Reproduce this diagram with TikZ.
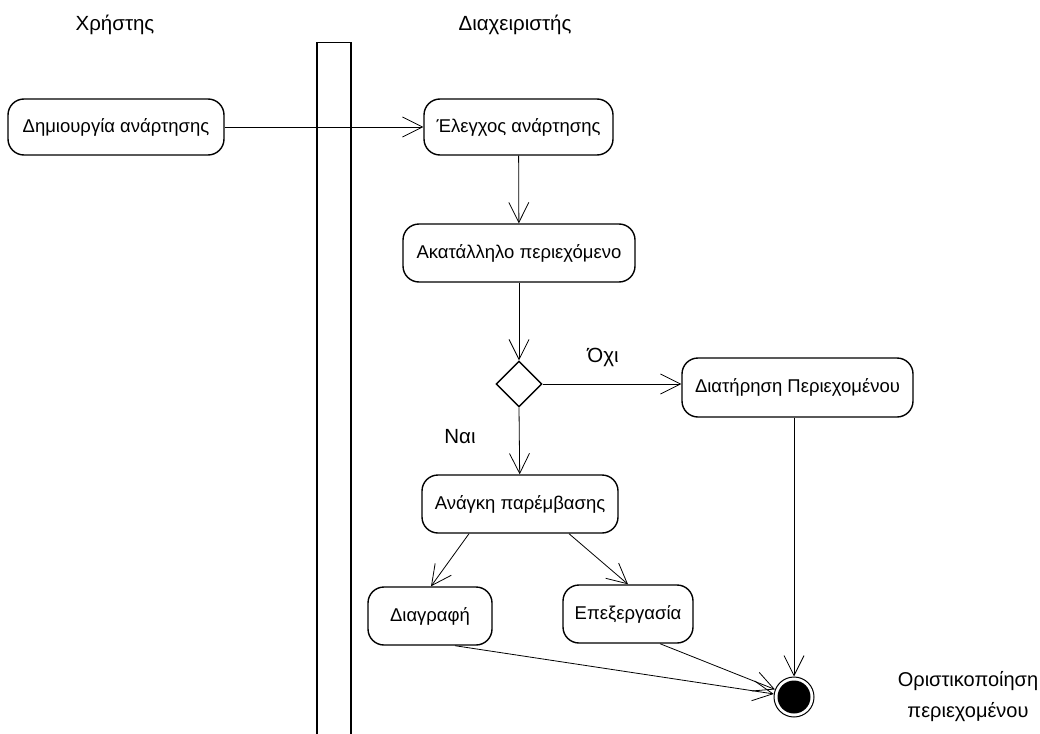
\documentclass[tikz,border=0pt]{standalone}
\usepackage{fontspec}
\setmainfont{Liberation Sans}
\usetikzlibrary{arrows.meta,calc,shapes.geometric}
\begin{document}
\begin{tikzpicture}[x=1pt,y=-1pt,
  act/.style={draw,rectangle,rounded corners=16pt,line width=1.4pt,inner sep=0pt,
    font=\fontsize{18.5}{22}\selectfont,fill=white},
  flow/.style={line width=0.8pt,-{Straight Barb[length=20pt,width=20pt,line width=0.8pt]}},
  lbl/.style={font=\fontsize{20.5}{24}\selectfont,inner sep=0pt},
]
\useasboundingbox (0,0) rectangle (1040,733);
% swimlane separator
\draw[line width=1.4pt] (317,760) -- (317,42.5) -- (351,42.5) -- (351,760);
% lane titles
\node[lbl] (lu) at (115,25) {Χρήστης};
\node[lbl] (la) at (515,25) {Διαχειριστής};
% activities
\node[act,minimum width=216pt,minimum height=56pt] (cr) at (116,127) {Δημιουργία ανάρτησης};
\node[act,minimum width=189pt,minimum height=56pt] (ch) at (518.5,127) {Έλεγχος ανάρτησης};
\node[act,minimum width=232pt,minimum height=58pt] (in) at (519,253) {Ακατάλληλο περιεχόμενο};
\node[draw,diamond,line width=1.4pt,minimum width=46pt,minimum height=46pt,inner sep=0pt] (dec) at (519,384) {};
\node[act,minimum width=231pt,minimum height=59pt] (kp) at (797.5,387.5) {Διατήρηση Περιεχομένου};
\node[act,minimum width=196pt,minimum height=58pt] (nd) at (520,504) {Ανάγκη παρέμβασης};
\node[act,minimum width=124pt,minimum height=58pt] (del) at (430,616) {Διαγραφή};
\node[act,minimum width=130pt,minimum height=58pt] (ed) at (628,614) {Επεξεργασία};
% final node
\node[draw,circle,line width=1pt,minimum size=40pt,inner sep=0pt] (fin) at (794,697) {};
\fill (fin.center) circle (16.5pt);
% guard labels
\node[lbl] (no) at (603,357) {Όχι};
\node[lbl] (yes) at (460,437) {Ναι};
\node[lbl,align=center,font=\fontsize{20}{31}\selectfont] (fl) at (968,697) {Οριστικοποίηση\\περιεχομένου};
% flows
\draw[flow] (cr) -- (ch);
\draw[flow] (ch) -- (in);
\draw[flow] (in) -- (dec.north);
\draw[flow] (dec.east) -- (kp.west |- dec.east);
\draw[flow] (dec.south) -- (nd);
\draw[flow] ($(nd.south)+(-51,0)$) -- ($(del.north)+(1,0)$);
\draw[flow] ($(nd.south)+(49,0)$) -- (ed.north);
\draw[flow] (fin |- kp.south) -- (fin.north);
\draw[flow] ($(del.south)+(25,0)$) -- (fin);
\draw[flow] ($(ed.south)+(32,0)$) -- (fin);
\end{tikzpicture}
\end{document}
